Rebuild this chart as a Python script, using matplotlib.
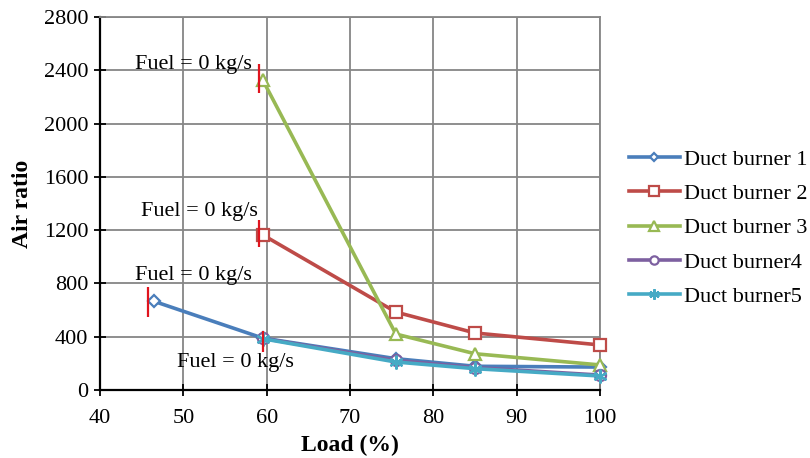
import matplotlib
matplotlib.use("Agg")
import matplotlib.pyplot as plt

load_short = [46.5, 59.5, 75.5, 85.0, 100.0]
load = [59.5, 75.5, 85.0, 100.0]
db1 = [665, 390, 235, 178, 172]
db2 = [1165, 585, 428, 338]
db3 = [2330, 420, 272, 188]
db4 = [388, 222, 168, 112]
db5 = [385, 210, 160, 105]

marks_x = [45.8, 59.1, 59.1, 59.5]
marks_lo = [548, 2230, 1074, 285]
marks_hi = [773, 2447, 1276, 443]
ann_text = "Fuel = 0 kg/s"
ann_x = [51.2, 51.9, 51.2, 56.3]
ann_y = [2440, 1336, 856, 203]

plt.rcParams['font.family'] = ['Liberation Serif', 'DejaVu Serif']
fig = plt.figure(figsize=(8.1, 4.58), dpi=100)
ax = fig.add_axes([0.1235, 0.1485, 0.6172, 0.8145])

lw = 2.6
common = dict(lw=lw, mfc='white', mew=1.6, zorder=3, clip_on=False)
ax.plot(load_short, db1, color='#4A7EBB', marker='D', ms=6, label='Duct burner 1', **common)
ax.plot(load, db2, color='#BE4B48', marker='s', ms=9, label='Duct burner 2', **common)
ax.plot(load, db3, color='#98B954', marker='^', ms=9, label='Duct burner 3', **common)
ax.plot(load, db4, color='#7D60A0', marker='o', ms=8, label='Duct burner4', **common)
ax.plot(load, db5, color='#46AAC5', marker=(6, 2, 0), ms=10, label='Duct burner5', **common)

ax.vlines(marks_x, marks_lo, marks_hi, color='#E0141E', lw=1.6, zorder=4)
for x, y in zip(ann_x, ann_y):
    ax.text(x, y, ann_text, fontsize=16, ha='center', va='center', zorder=5)

ax.set_xlim(40, 100)
ax.set_ylim(0, 2800)
ax.set_xticks(range(40, 101, 10))
ax.set_yticks(range(0, 2801, 400))
ax.grid(True, color='#868686', lw=1.3)
ax.set_axisbelow(True)
ax.tick_params(labelsize=16, direction='inout', length=9, width=1.3, pad=4)
ax.tick_params(axis='x', pad=9)
for s in ['top', 'right']:
    ax.spines[s].set_color('#868686')
    ax.spines[s].set_linewidth(1.3)
for s in ['left', 'bottom']:
    ax.spines[s].set_linewidth(1.6)
ax.set_xlabel('Load (%)', fontsize=17, fontweight='bold', labelpad=5)
ax.set_ylabel('Air ratio', fontsize=17, fontweight='bold', labelpad=8)

ax.legend(loc='center left', bbox_to_anchor=(1.04, 0.434), frameon=False, fontsize=16,
          handlelength=2.3, labelspacing=0.62, handletextpad=0.2, borderaxespad=0,
          markerscale=0.75)

fig.savefig('out.png', dpi=100)
